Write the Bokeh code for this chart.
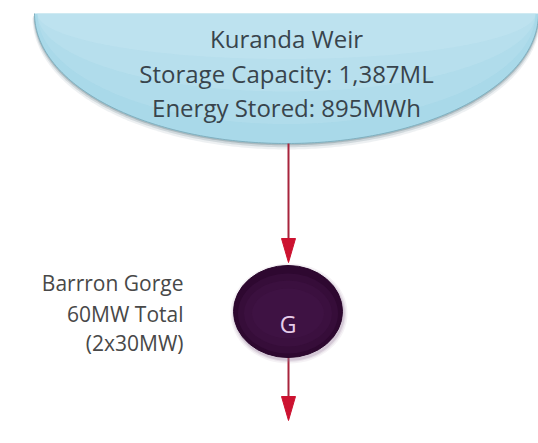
import numpy as np
from bokeh.plotting import figure
from bokeh.models import Range1d
from bokeh.core.properties import value
from bokeh.embed import file_html
from bokeh.resources import INLINE

# ---- data ----
reservoir_name = "Kuranda Weir"
storage_capacity_ml = 1387
energy_stored_mwh = 895
station_name = "Barrron Gorge"
station_total_mw = 60
unit_count = 2
unit_mw = 30
generator_symbol = "G"

reservoir_lines = [
    reservoir_name,
    f"Storage Capacity: {storage_capacity_ml:,}ML",
    f"Energy Stored: {energy_stored_mwh}MWh",
]
station_lines = [
    station_name,
    f"{station_total_mw}MW Total",
    f"({unit_count}x{unit_mw}MW)",
]

W, H = 538, 443
p = figure(width=W, height=H, output_backend="svg", toolbar_location=None,
           x_range=Range1d(0, W), y_range=Range1d(H, 0),
           min_border=0, outline_line_color=None)
p.axis.visible = False
p.grid.visible = False
p.background_fill_color = "white"
p.border_fill_color = "white"

FONT = value("Open Sans")

# ---- reservoir (half ellipse) ----
cx, top, a, b = 286, 13, 252, 130
t = np.linspace(0, np.pi, 240)
for k, al in [(4, 0.10), (2.5, 0.18), (1.2, 0.30)]:
    p.patch(list(cx + (a + k * 0.5) * np.cos(t)), list(top + k + (b + k * 0.5) * np.sin(t)),
            fill_color="#4f6f7c", fill_alpha=al, line_color=None)
p.patch(list(cx + a * np.cos(t)), list(top + b * np.sin(t)),
        fill_color="#a9d9e9", line_color=None)
p.line(list(cx + a * np.cos(t)), list(top + b * np.sin(t)),
       line_color="#7fb0c0", line_width=1)
for frac, al in [(0.85, 0.25), (0.6, 0.3), (0.35, 0.35)]:
    p.patch(list(cx + (a - 3) * np.cos(t)), list(top + (b * frac) * np.sin(t)),
            fill_color="#c8e9f3", fill_alpha=al, line_color=None)

p.text(x=[cx] * 3, y=[38, 73, 107], text=reservoir_lines,
       text_align="center", text_baseline="alphabetic",
       text_font=FONT, text_font_size="24px", text_color="#38444c")

# ---- arrows ----
arrow_x = 288
ac = "#cc1230"
p.segment(x0=[arrow_x, arrow_x], y0=[143, 357], x1=[arrow_x, arrow_x], y1=[242, 400],
          line_color="#a8243c", line_width=2)
tips = [262, 420]
head_len, head_half = 24, 7
p.patches(xs=[[arrow_x - head_half, arrow_x + head_half, arrow_x] for _ in tips],
          ys=[[tp - head_len, tp - head_len, tp] for tp in tips],
          fill_color=ac, line_color=ac, line_width=1)

# ---- generator ----
gx, gy = 287.5, 311
for k, al in [(8, 0.10), (5, 0.15), (2.5, 0.25)]:
    p.ellipse(x=[gx + 1], y=[gy + 2], width=109 + k, height=92 + k,
              fill_color="#9a7fa0", fill_alpha=al, line_color=None)
p.ellipse(x=[gx], y=[gy], width=109, height=92, fill_color="#2e0830",
          line_color="#2a072c", line_width=1)
for w_, h_, al in [(100, 80, 0.35), (88, 66, 0.35), (72, 50, 0.35)]:
    p.ellipse(x=[gx], y=[gy + 2], width=w_, height=h_, fill_color="#45164a",
              fill_alpha=al, line_color=None)
p.text(x=[gx], y=[gy + 12], text=[generator_symbol], text_align="center",
       text_baseline="alphabetic", text_font=FONT, text_font_size="23px",
       text_color="#e6cdea")

p.text(x=[183] * 3, y=[282, 313, 342], text=station_lines,
       text_align="right", text_baseline="alphabetic",
       text_font=FONT, text_font_size="21px", text_color="#484848")

open("out.html", "w").write(file_html(p, INLINE))
